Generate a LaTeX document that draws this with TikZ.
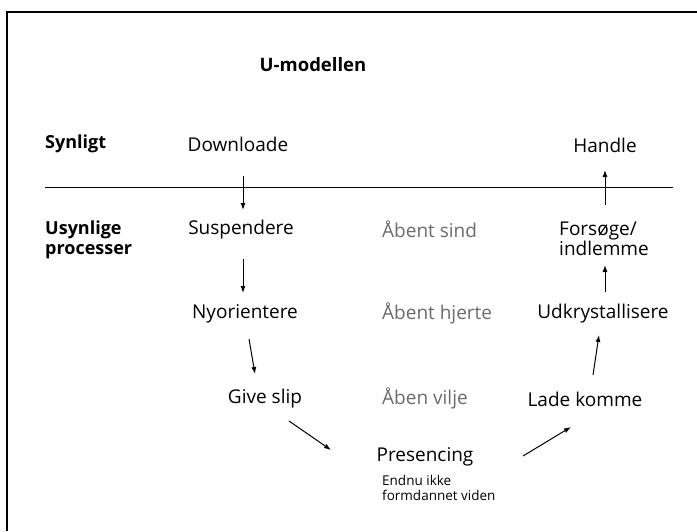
\documentclass[tikz,border=0pt]{standalone}
\usepackage{fontspec}
\setmainfont{Open Sans}
\usetikzlibrary{arrows.meta,calc}
\definecolor{softgray}{gray}{0.42}
\tikzset{
  lbl/.style={inner sep=0pt, font=\fontsize{19}{20}\selectfont},
  head/.style={inner sep=0pt, font=\fontsize{18}{19.5}\selectfont\bfseries, align=left, anchor=west},
  openlbl/.style={lbl, text=softgray, anchor=west},
  small/.style={inner sep=0pt, font=\fontsize{13.5}{15.5}\selectfont, align=left, anchor=north west},
  arr/.style={line width=1pt, -{Latex[length=7pt,width=5pt]}},
}
\begin{document}
\begin{tikzpicture}[x=1pt,y=-1pt]
\useasboundingbox (0,0) rectangle (697,531);
\draw[line width=2pt] (7,531) -- (7,12) -- (697,12);
% title
\node[inner sep=0pt, font=\fontsize{18.5}{20}\selectfont\bfseries] (title) at (313,65) {U-modellen};
% left headings
\node[head] (syn) at (45,144) {Synligt};
\node[head] (usyn) at (45,240) {Usynlige\\processer};
% divider
\coordinate (divL) at (45,187);
\coordinate (divR) at (673,187);
\draw[line width=1pt] (divL) -- (divR);
% left branch
\node[lbl] (down) at (238,144) {Downloade};
\node[lbl] (susp) at (241,230) {Suspendere};
\node[lbl] (nyo) at (245,314) {Nyorientere};
\node[lbl] (give) at (265,399) {Give slip};
% bottom
\node[lbl] (pres) at (425,457) {Presencing};
\node[small] (endnu) at (382,475) {Endnu ikke\\formdannet viden};
% middle column
\node[openlbl] (sind) at (382,229) {Åbent sind};
\node[openlbl] (hjerte) at (382,313) {Åbent hjerte};
\node[openlbl] (vilje) at (382,398) {Åben vilje};
% right branch
\node[lbl] (lade) at (585,399) {Lade komme};
\node[lbl] (udk) at (603,314) {Udkrystallisere};
\node[lbl, align=left] (fors) at (604,239) {Forsøge/\\indlemme};
\node[lbl] (handle) at (605,145) {Handle};
% arrows
\draw[arr] ($(down)+(5,32)$) -- ($(susp)+(2,-20)$);
\draw[arr] ($(susp)+(2,29)$) -- ($(nyo)+(-2,-21)$);
\draw[arr] ($(nyo)+(4,25)$) -- ($(give)+(-10,-25)$);
\draw[arr] ($(give)+(24,22)$) -- ($(pres)+(-94,-7)$);
\draw[arr] ($(pres)+(98,-1)$) -- ($(lade)+(-14,28)$);
\draw[arr] ($(lade)+(8,-24)$) -- ($(udk)+(-4,21)$);
\draw[arr] ($(udk)+(2,-22)$) -- ($(fors)+(1,26)$);
\draw[arr] ($(fors)+(1,-34)$) -- ($(handle)+(0,25)$);
\end{tikzpicture}
\end{document}
